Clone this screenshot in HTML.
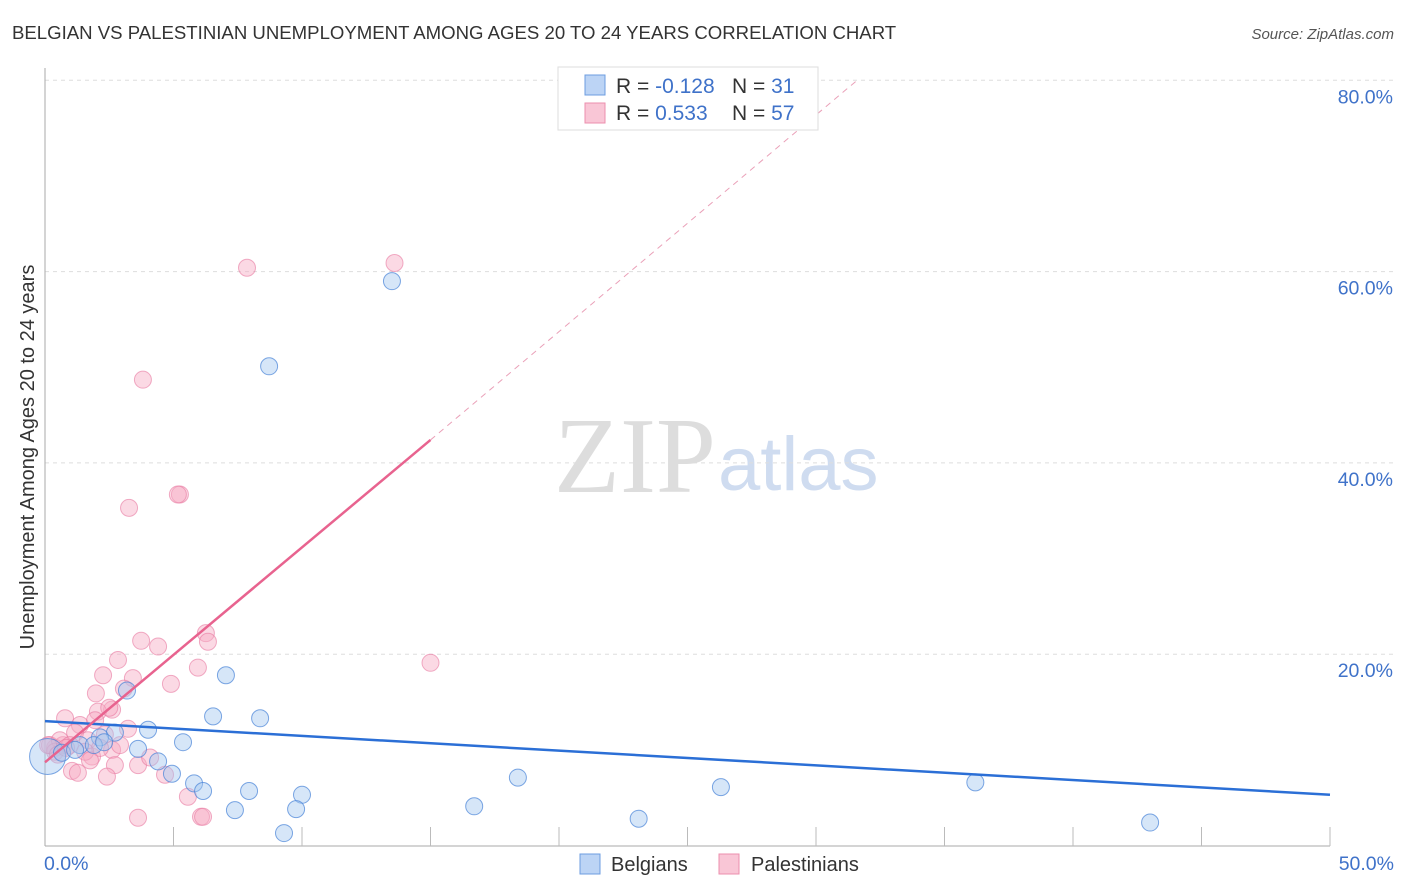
<!DOCTYPE html>
<html><head><meta charset="utf-8"><style>
body{margin:0;background:#fff;font-family:"Liberation Sans",sans-serif}
svg{display:block}
</style></head><body>
<svg id="c" width="1406" height="892">
<text x="12" y="39" font-size="18.6" fill="#333">BELGIAN VS PALESTINIAN UNEMPLOYMENT AMONG AGES 20 TO 24 YEARS CORRELATION CHART</text>
<text x="1394" y="39" font-size="15" fill="#555" font-style="italic" text-anchor="end">Source: ZipAtlas.com</text>
<text x="716" y="492" font-size="108" fill="#ddd" font-family="Liberation Serif,serif" text-anchor="end">ZIP</text>
<text x="718" y="490" font-size="76" fill="#cfdcf0">atlas</text>
<text transform="translate(34,457) rotate(-90)" font-size="20" fill="#333" text-anchor="middle">Unemployment Among Ages 20 to 24 years</text>
<g id="grid"></g><g id="pts"></g><g id="lines"></g>
<g>
<rect x="558" y="67" width="260" height="63" fill="#fff" stroke="#ddd"/>
<rect x="585" y="75" width="20" height="20" fill="#bcd4f5" stroke="#6c9de0"/>
<rect x="585" y="103" width="20" height="20" fill="#f9c6d6" stroke="#ec8fae"/>
<text x="616" y="93" font-size="21" fill="#333">R = <tspan fill="#3f72c9">-0.128</tspan></text>
<text x="732" y="93" font-size="21" fill="#333">N = <tspan fill="#3f72c9"> 31</tspan></text>
<text x="616" y="120" font-size="21" fill="#333">R = <tspan fill="#3f72c9"> 0.533</tspan></text>
<text x="732" y="120" font-size="21" fill="#333">N = <tspan fill="#3f72c9">57</tspan></text>
</g>
<g>
<rect x="580" y="854" width="20" height="20" fill="#bcd4f5" stroke="#6c9de0"/>
<text x="611" y="871" font-size="20" fill="#333">Belgians</text>
<rect x="719" y="854" width="20" height="20" fill="#f9c6d6" stroke="#ec8fae"/>
<text x="751" y="871" font-size="20" fill="#333">Palestinians</text>
</g>
</svg>
<script>
const yTicks=[20,40,60,80];
const xTickLabels=["0.0%","50.0%"];
const belX=[0.1,13.5,8.72,3.19,7.04,4.01,6.54,8.37,5.37,3.62,4.40,4.94,5.80,6.15,7.94,7.39,10.0,9.77,9.30,16.7,18.4,23.1,26.3,36.2,43.0,2.72,2.14,1.36,0.66,1.9,2.3,1.17];
const belY=[9.3,59.0,50.1,16.2,17.8,12.1,13.5,13.3,10.8,10.1,8.8,7.5,6.5,5.7,5.7,3.7,5.3,3.8,1.3,4.1,7.1,2.8,6.1,6.6,2.4,11.8,11.3,10.5,9.7,10.5,10.8,10.0];
const palX=[7.86,13.6,3.81,3.27,5.25,5.17,6.26,6.34,3.74,4.40,15.0,2.84,5.95,2.26,3.42,4.90,1.98,3.07,2.61,2.06,2.5,0.78,1.36,3.23,1.17,1.67,2.33,0.70,0.39,0.19,2.61,1.83,3.62,2.72,1.05,1.28,2.41,4.67,5.56,6.07,6.15,3.62,4.09,2.14,1.56,0.58,0.97,2.92,1.95,1.75,0.39,0.12,0.5,0.82];
const palY=[60.4,60.9,48.7,35.3,36.7,36.7,22.2,21.3,21.4,20.8,19.1,19.4,18.6,17.8,17.5,16.9,15.9,16.4,14.2,14.0,14.4,13.3,12.6,12.2,11.8,11.0,11.6,10.5,10.2,10.5,10.0,9.3,8.4,8.4,7.8,7.6,7.2,7.4,5.1,3.0,3.0,2.9,9.2,10.2,9.8,11.0,10.5,10.5,13.1,8.9,9.8,10.5,9.5,10.2];
const belTrend=[[0,13.0],[50,5.3]];
const palTrend=[[0,8.7],[15,42.4]];
const palTrendExt=[[15,42.4],[31.6,80]];
const X=v=>45+v*1285/50, Y=v=>845.5-v*191.3/20;
const NS="http://www.w3.org/2000/svg";
function mk(t,a,p){const e=document.createElementNS(NS,t);for(const k in a)e.setAttribute(k,a[k]);p.appendChild(e);return e;}
const grid=document.getElementById('grid');
yTicks.forEach(t=>{
 const l=mk('line',{x1:45,x2:1395,y1:Y(t),y2:Y(t),stroke:'#ddd','stroke-dasharray':'4 4'},grid);
 
 
 const tx=mk('text',{x:1393,y:Y(t)+23,'font-size':19.5,fill:'#3f72c9','text-anchor':'end'},grid);
 tx.textContent=t.toFixed(1)+'%';
 
 
});
mk('line',{x1:45,x2:45,y1:68,y2:846,stroke:'#aaa'},grid);
mk('line',{x1:45,x2:1330,y1:846,y2:846,stroke:'#aaa'},grid);
for(let i=1;i<=10;i++){const t=mk('line',{x1:X(i*5),x2:X(i*5),y1:827,y2:846,stroke:'#bbb'},grid);
 
 }
[[0,'start',44],[50,'end',1394]].forEach((d,i)=>{const t=mk('text',{x:d[2],y:870,'font-size':19.5,fill:'#3f72c9','text-anchor':d[1]},grid);t.textContent=xTickLabels[i];
 
 });
const pts=document.getElementById('pts');
palX.forEach((x,i)=>{const c=mk('circle',{cx:X(x),cy:Y(palY[i]),r:8.5,fill:'rgba(246,170,195,0.45)',stroke:'rgba(232,120,160,0.6)'},pts);
 
 });
belX.forEach((x,i)=>{const c=mk('circle',{cx:X(x),cy:Y(belY[i]),r:i==0?18:8.5,fill:'rgba(165,200,240,0.45)',stroke:'rgba(70,130,215,0.7)'},pts);
 
 });
const lines=document.getElementById('lines');
let l=mk('line',{x1:X(belTrend[0][0]),y1:Y(belTrend[0][1]),x2:X(belTrend[1][0]),y2:Y(belTrend[1][1]),stroke:'#2b6fd6','stroke-width':2.5},lines);


l=mk('line',{x1:X(palTrend[0][0]),y1:Y(palTrend[0][1]),x2:X(palTrend[1][0]),y2:Y(palTrend[1][1]),stroke:'#e8638f','stroke-width':2.5},lines);


l=mk('line',{x1:X(palTrendExt[0][0]),y1:Y(palTrendExt[0][1]),x2:X(palTrendExt[1][0]),y2:Y(palTrendExt[1][1]),stroke:'#eaa0b8','stroke-width':1,'stroke-dasharray':'6 5'},lines);


</script>
</body></html>
